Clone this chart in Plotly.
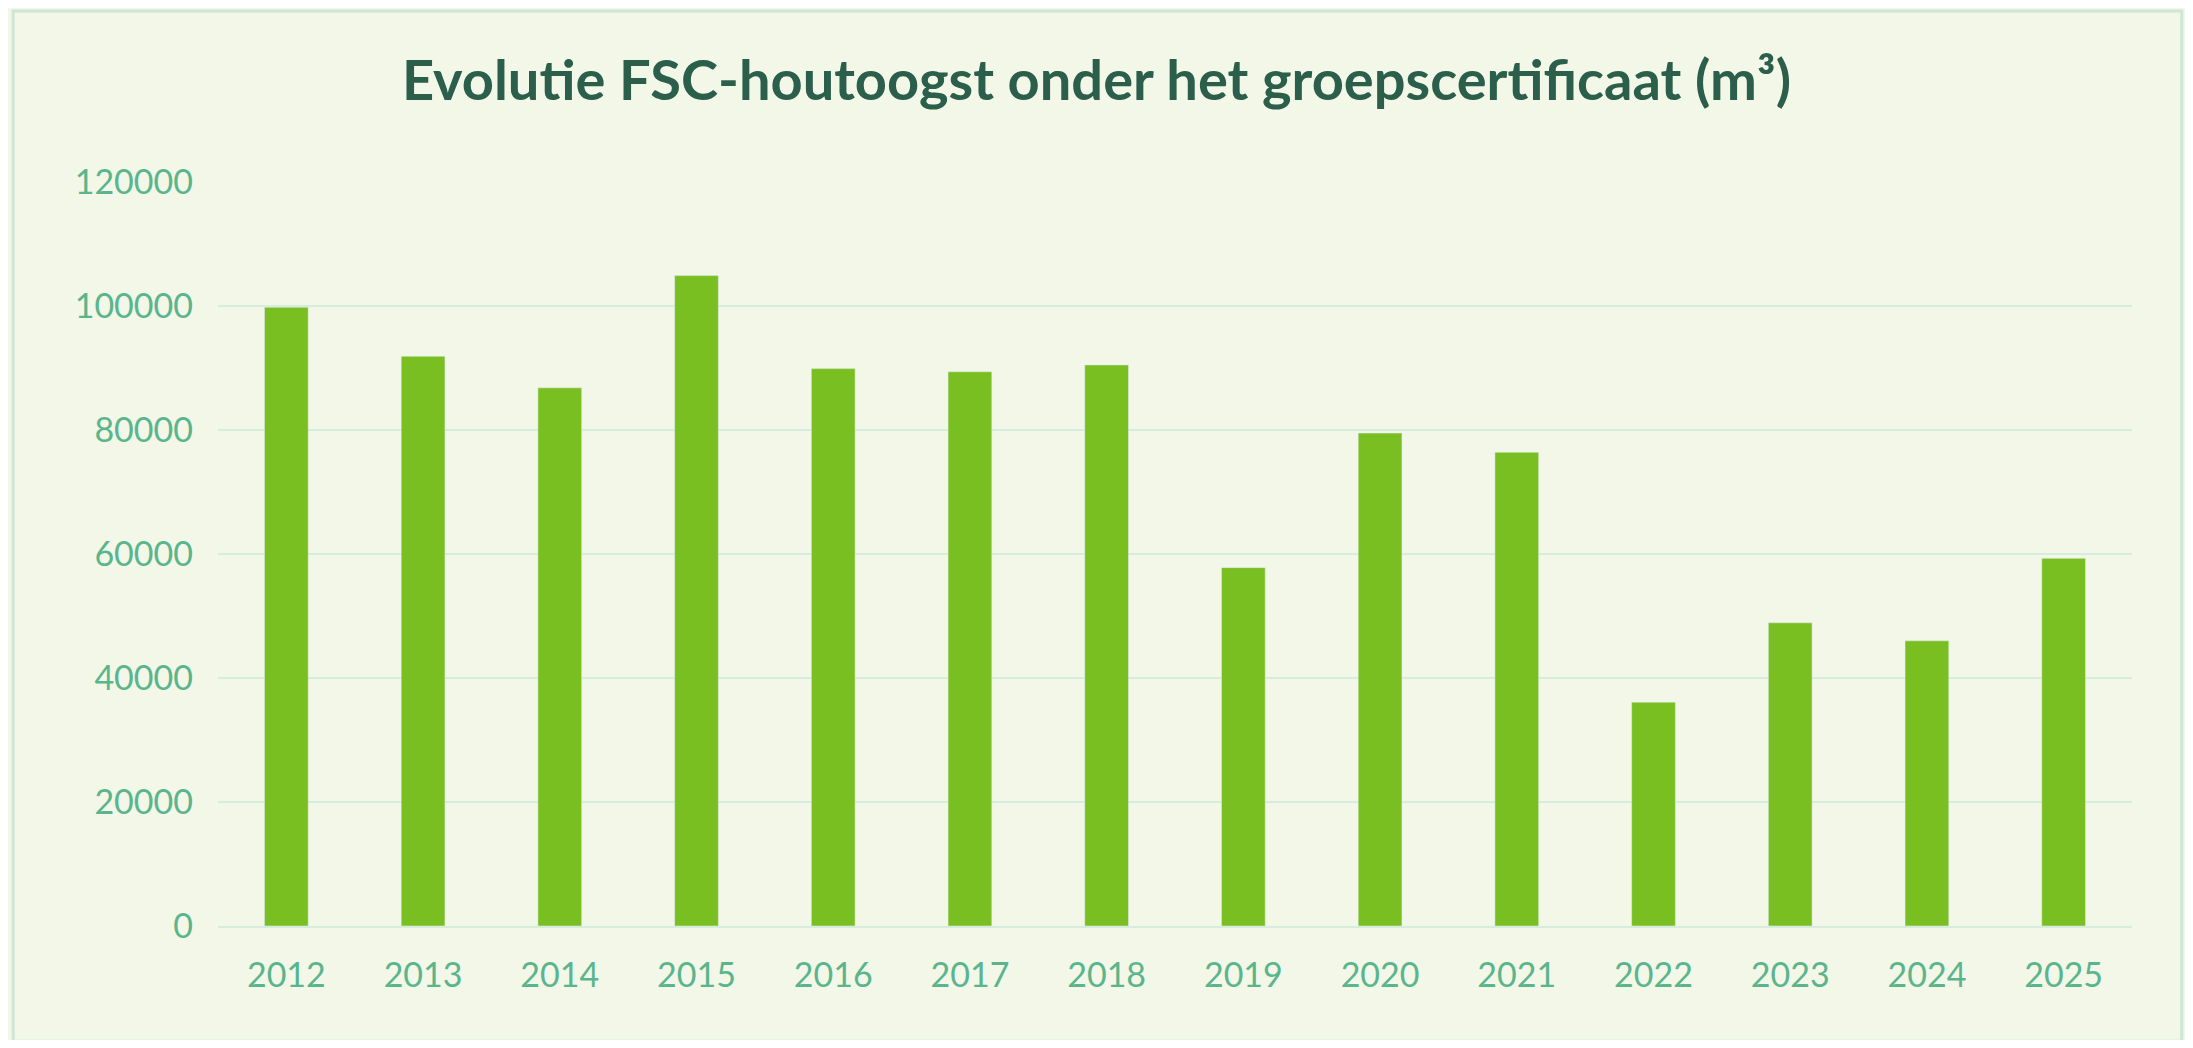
import plotly.graph_objs as go

# Harvest volumes
years = ["2012", "2013", "2014", "2015", "2016", "2017", "2018",
         "2019", "2020", "2021", "2022", "2023", "2024", "2025"]
volume = [99800, 91900, 86800, 104900, 89900, 89400, 90500,
          57800, 79500, 76400, 36100, 48900, 46000, 59300]
y_ticks = [0, 20000, 40000, 60000, 80000, 100000, 120000]

data = [go.Bar(x=years, y=volume, marker_color="#7abf22", hoverinfo="x+y")]

layout = go.Layout(
    title=dict(
        text="<b>Evolutie FSC-houtoogst onder het groepscertificaat (m³)</b>",
        x=0.5, xanchor="center", y=0.93, yanchor="middle",
        font=dict(family="Lato", size=56, color="#2b5e4b"),
    ),
    paper_bgcolor="#f2f7e8",
    plot_bgcolor="#f2f7e8",
    margin=dict(l=210, r=53, t=174, b=114),
    bargap=0.68,
    xaxis=dict(
        tickfont=dict(family="Lato", size=34, color="#5ab58c"),
        showgrid=False, showline=True, linecolor="#d6ecdc", linewidth=2,
        ticks="", ticklabelstandoff=18,
    ),
    yaxis=dict(
        range=[0, 120000], tickvals=y_ticks, ticktext=[str(v) for v in y_ticks],
        tickfont=dict(family="Lato", size=34, color="#5ab58c"),
        gridcolor="#d6ecdc", gridwidth=2, zeroline=False,
        ticklabelstandoff=24,
    ),
    shapes=[dict(type="rect", xref="paper", yref="paper", x0=-0.107, x1=1.026,
                 y0=-0.155, y1=1.23, line=dict(color="#cfe5d6", width=3))],
    showlegend=False,
)

fig = go.Figure(data=data, layout=layout)
fig.write_html("out.html")
